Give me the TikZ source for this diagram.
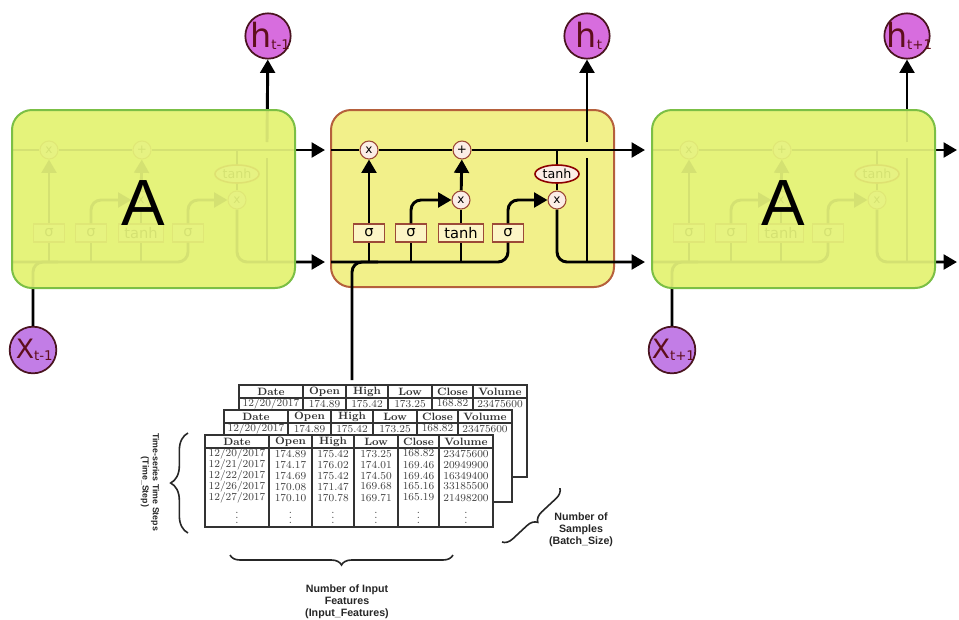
\documentclass[tikz,border=0pt]{standalone}
\usepackage{fontspec}
\setsansfont{Liberation Sans}
\newfontfamily\dejavu{DejaVu Sans}
\usetikzlibrary{arrows.meta,shapes.geometric,decorations.pathreplacing,calc}

\definecolor{cellC}{HTML}{F2F08A}
\definecolor{cellCb}{HTML}{B5603C}
\definecolor{cellO}{HTML}{E5F37B}
\definecolor{cellOb}{HTML}{7BBF45}
\definecolor{opfill}{HTML}{FBEDE6}
\definecolor{opdraw}{HTML}{9C4A38}
\definecolor{boxfill}{HTML}{FCF5C6}
\definecolor{hcol}{HTML}{D76DDE}
\definecolor{xcol}{HTML}{C27DE6}
\definecolor{circb}{HTML}{4A1420}
\definecolor{txtm}{HTML}{5E0E1C}

\tikzset{
  flow/.style={line width=2.2pt, draw=black},
  arr/.style={flow, -{Triangle[length=10pt,width=11pt]}},
  op/.style={circle, draw=opdraw, fill=opfill, line width=0.8pt, minimum size=13.5pt, inner sep=0pt, font=\dejavu\fontsize{9}{9}\selectfont},
  gate/.style={rectangle, draw=opdraw, fill=boxfill, line width=0.8pt, minimum height=13.5pt, minimum width=23.5pt, inner sep=0pt, font=\dejavu\fontsize{11}{11}\selectfont},
  tanhe/.style={ellipse, draw=red!55!black, fill=opfill, line width=1.2pt, minimum width=33pt, minimum height=13.5pt, inner sep=0pt, font=\dejavu\fontsize{9.5}{9.5}\selectfont},
  cellbox/.style={rounded corners=15pt, line width=1.5pt},
  hcirc/.style={circle, draw=circb, fill=hcol, line width=1.3pt, minimum size=34pt, inner sep=0pt},
  xcirc/.style={circle, draw=circb, fill=xcol, line width=1.3pt, minimum size=35pt, inner sep=0pt},
  bigA/.style={font=\sffamily\fontsize{49}{49}\selectfont, inner sep=0pt},
  tbl/.style={draw=black!80, line width=0.8pt},
  hdr/.style={inner sep=0pt, font=\bfseries\fontsize{8}{8}\selectfont, text=black!80},
  cellt/.style={inner sep=0pt, font=\fontsize{8}{8}\selectfont, text=black!75},
  bracepath/.style={decorate, line width=1.2pt, draw=black!85},
  lab/.style={inner sep=0pt, align=center, text=black!85, font=\sffamily\bfseries\fontsize{8}{9}\selectfont}
}

\newcommand\hsym[1]{{\dejavu\fontsize{25}{25}\selectfont h\fontsize{10}{10}\selectfont\raisebox{-1.5pt}{#1}}}
\newcommand\xsym[1]{{\dejavu\fontsize{20}{20}\selectfont X\fontsize{10}{10}\selectfont\raisebox{-1.5pt}{#1}}}

\newcommand\lstminside[2]{%
  \node[op] (#1-f) at (369,150) {x};
  \node[op] (#1-a) at (462,150) {+};
  \node[op] (#1-i) at (461,200) {x};
  \node[op] (#1-o) at (557,200) {x};
  \node[tanhe] (#1-tc) at (557,174) {tanh};
  \node[gate] (#1-s1) at (369,233) {σ};
  \node[gate] (#1-s2) at (411,233) {σ};
  \node[gate,minimum width=33.75pt] (#1-tb) at (461,233) {tanh};
  \node[gate] (#1-s4) at (508,233) {σ};
  \coordinate (#1-inT) at (331,150);
  \coordinate (#1-inB) at (331,262);
  \coordinate (#1-outT) at (#2,150);
  \coordinate (#1-outB) at (#2,262);
  \coordinate (#1-xj) at (378,262);
  \coordinate (#1-hb) at (587,262);
  \coordinate (#1-hg1) at (587,158);
  \coordinate (#1-hg2) at (587,142);
  \coordinate (#1-tj) at (557,150);
  \draw[flow] (#1-inT) -- (#1-f);
  \draw[flow] (#1-f) -- (#1-a);
  \draw[arr] (#1-a) -- (#1-outT);
  \draw[flow] (#1-tj) -- (#1-tc);
  \draw[flow] (#1-tc) -- (#1-o);
  \draw[flow, rounded corners=7.5pt] (#1-inB) -| (#1-s4);
  \draw[flow] (#1-s1 |- #1-inB) -- (#1-s1);
  \draw[flow] (#1-s2 |- #1-inB) -- (#1-s2);
  \draw[flow] (#1-tb |- #1-inB) -- (#1-tb);
  \draw[arr] (#1-s1) -- (#1-f);
  \draw[arr, rounded corners=7.5pt] (#1-s2) |- (#1-i);
  \draw[flow] (#1-tb) -- (#1-i);
  \draw[arr] (#1-i) -- (#1-a);
  \draw[arr, rounded corners=7.5pt] (#1-s4) |- (#1-o);
  \draw[arr, rounded corners=7.5pt] (#1-o) |- (#1-outB);
  \draw[flow] (#1-hb) -- (#1-hg1);
}

\newcommand\thead[3]{%
  \node[hdr] (#1-1) at (#2+32,#3) {Date};
  \node[hdr] (#1-2) at (#2+85.5,#3) {Open};
  \node[hdr] (#1-3) at (#2+128,#3) {High};
  \node[hdr] (#1-4) at (#2+171,#3) {Low};
  \node[hdr] (#1-5) at (#2+213.5,#3) {Close};
  \node[hdr] (#1-6) at (#2+261,#3) {Volume};
}
\newcommand\trow[9]{%
  \node[cellt] (#1-1) at (#2+32,#3) {#4};
  \node[cellt] (#1-2) at (#2+85.5,#3) {#5};
  \node[cellt] (#1-3) at (#2+128,#3) {#6};
  \node[cellt] (#1-4) at (#2+171,#3) {#7};
  \node[cellt] (#1-5) at (#2+213.5,#3) {#8};
  \node[cellt] (#1-6) at (#2+261,#3) {#9};
}
\newcommand\tablegrid[3]{%
  \draw[tbl, fill=white] (#2,#3) rectangle (#2+288,#3+92);
  \foreach \cx in {64,107,149,193,234} {\draw[tbl] (#2+\cx,#3) -- (#2+\cx,#3+92);}
  \draw[tbl] (#2,#3+13) -- (#2+288,#3+13);
  \thead{#1-h}{#2}{#3+6.5}
}

\begin{document}
\begin{tikzpicture}[x=0.75pt,y=-0.75pt]
\useasboundingbox (0,0) rectangle (959,619);

% circles for h and x
\node[hcirc, label={[text=txtm, xshift=1.5pt]center:\hsym{t-1}}] (hL) at (268,36) {};
\node[hcirc, label={[text=txtm, xshift=1.5pt]center:\hsym{t}}] (hC) at (587,36) {};
\node[hcirc, label={[text=txtm, xshift=1.5pt]center:\hsym{t+1}}] (hR) at (907,36) {};
\node[xcirc, label={[text=txtm, xshift=1pt]center:\xsym{t-1}}] (xL) at (33,350) {};
\node[xcirc, label={[text=txtm, xshift=1pt]center:\xsym{t+1}}] (xR) at (672,350) {};
\coordinate (xin) at (352,380);

% cell backgrounds
\fill[cellO, cellbox] (12,110) rectangle (295,288);
\fill[cellO, cellbox] (652,110) rectangle (935,288);
\draw[cellCb, fill=cellC, cellbox] (331,110) rectangle (614,287);

% internals
\begin{scope}[shift={(-320,0)}]
  \lstminside{L}{645}
\end{scope}
\lstminside{C}{645}
\begin{scope}[shift={(320,0)}]
  \lstminside{R}{637}
\end{scope}

% inputs and outputs
\draw[flow, rounded corners=7.5pt] (xL) |- (L-xj);
\draw[flow, rounded corners=7.5pt] (xin) |- (C-xj);
\draw[flow, rounded corners=7.5pt] (xR) |- (R-xj);
\draw[arr] (L-hg2) -- (hL);
\draw[arr] (C-hg2) -- (hC);
\draw[arr] (R-hg2) -- (hR);

% overlays of the outer cells
\fill[cellO, fill opacity=0.93, cellbox] (12,110) rectangle (295,288);
\fill[cellO, fill opacity=0.93, cellbox] (652,110) rectangle (935,288);
\draw[cellOb, cellbox] (12,110) rectangle (295,288);
\draw[cellOb, cellbox] (652,110) rectangle (935,288);
\node[bigA] (AL) at (143,203) {A};
\node[bigA] (AR) at (783,203) {A};

% tables
\tablegrid{t1}{239}{385}
\trow{t1-r1}{239}{403.5}{12/20/2017}{174.89}{175.42}{173.25}{168.82}{23475600}
\tablegrid{t2}{224}{410}
\trow{t2-r1}{224}{428.5}{12/20/2017}{174.89}{175.42}{173.25}{168.82}{23475600}
\tablegrid{t3}{205}{435}
\trow{t3-r1}{205}{453.5}{12/20/2017}{174.89}{175.42}{173.25}{168.82}{23475600}
\trow{t3-r2}{205}{464.5}{12/21/2017}{174.17}{176.02}{174.01}{169.46}{20949900}
\trow{t3-r3}{205}{475.5}{12/22/2017}{174.69}{175.42}{174.50}{169.46}{16349400}
\trow{t3-r4}{205}{486.5}{12/26/2017}{170.08}{171.47}{169.68}{165.16}{33185500}
\trow{t3-r5}{205}{497.5}{12/27/2017}{170.10}{170.78}{169.71}{165.19}{21498200}
\trow{t3-r6}{205}{514}{$\vdots$}{$\vdots$}{$\vdots$}{$\vdots$}{$\vdots$}{$\vdots$}

% braces
\draw[bracepath, decoration={brace, mirror, amplitude=13pt}] (188,433) -- (188,533);
\draw[bracepath, decoration={brace, mirror, amplitude=7.5pt}] (230,555) -- (453,555);
\draw[bracepath, decoration={brace, mirror, amplitude=7.5pt}] (502,542) -- (560,488);

% labels
\node[lab, rotate=-90, font=\sffamily\bfseries\fontsize{6.6}{7.8}\selectfont] (lts) at (150,482) {Time-series Time Steps\\(Time\_Step)};
\node[lab] (lbs) at (581,530) {Number of\\Samples\\(Batch\_Size)};
\node[lab] (lif) at (347,602) {Number of Input\\Features\\(Input\_Features)};
\end{tikzpicture}
\end{document}
